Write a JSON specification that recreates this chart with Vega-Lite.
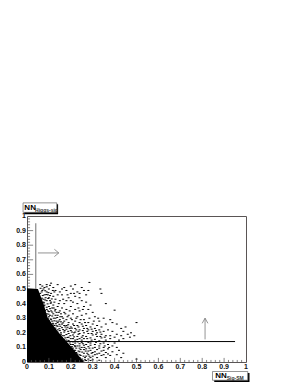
{"$schema":"https://vega.github.io/schema/vega-lite/v6.json","width":219,"height":146,"autosize":"none","padding":{"left":27,"top":216,"right":52,"bottom":23},"background":"white","view":{"stroke":"#5a5555","strokeWidth":1},
"datasets":{
"core":[{"x":0,"y":0.505},{"x":0.05,"y":0.5},{"x":0.075,"y":0.4},{"x":0.095,"y":0.3},{"x":0.145,"y":0.2},{"x":0.205,"y":0.1},{"x":0.26,"y":0}],
"pts":[{"x":0.285,"y":0.545},{"x":0.335,"y":0.5},{"x":0.34,"y":0.47},{"x":0.36,"y":0.4},{"x":0.4,"y":0.355},{"x":0.5,"y":0.27},{"x":0.475,"y":0.2},{"x":0.45,"y":0.24},{"x":0.43,"y":0.23},{"x":0.5,"y":0.02},{"x":0.44,"y":0.21},{"x":0.41,"y":0.26},{"x":0.39,"y":0.27},{"x":0.38,"y":0.29},{"x":0.35,"y":0.3},{"x":0.33,"y":0.28},{"x":0.31,"y":0.31},{"x":0.3,"y":0.34},{"x":0.28,"y":0.36},{"x":0.27,"y":0.33},{"x":0.29,"y":0.39},{"x":0.26,"y":0.38},{"x":0.27,"y":0.46},{"x":0.28,"y":0.49},{"x":0.26,"y":0.49},{"x":0.25,"y":0.51},{"x":0.23,"y":0.48},{"x":0.22,"y":0.53},{"x":0.21,"y":0.5},{"x":0.2,"y":0.52},{"x":0.24,"y":0.44},{"x":0.22,"y":0.45},{"x":0.2,"y":0.47},{"x":0.19,"y":0.44},{"x":0.18,"y":0.49},{"x":0.17,"y":0.51},{"x":0.16,"y":0.5},{"x":0.14,"y":0.53},{"x":0.11,"y":0.54},{"x":0.09,"y":0.53},{"x":0.07,"y":0.52},{"x":0.06,"y":0.53},{"x":0.08,"y":0.51},{"x":0.1,"y":0.5},{"x":0.12,"y":0.51},{"x":0.13,"y":0.49},{"x":0.15,"y":0.48},{"x":0.11,"y":0.47},{"x":0.09,"y":0.48},{"x":0.07,"y":0.49},{"x":0.06,"y":0.47},{"x":0.08,"y":0.46},{"x":0.1,"y":0.44},{"x":0.12,"y":0.45},{"x":0.14,"y":0.46},{"x":0.16,"y":0.46},{"x":0.18,"y":0.42},{"x":0.21,"y":0.41},{"x":0.23,"y":0.4},{"x":0.2,"y":0.38},{"x":0.17,"y":0.4},{"x":0.15,"y":0.42},{"x":0.13,"y":0.43},{"x":0.11,"y":0.41},{"x":0.09,"y":0.42},{"x":0.075,"y":0.43},{"x":0.08,"y":0.39},{"x":0.1,"y":0.38},{"x":0.12,"y":0.39},{"x":0.14,"y":0.38},{"x":0.16,"y":0.37},{"x":0.18,"y":0.36},{"x":0.22,"y":0.36},{"x":0.24,"y":0.35},{"x":0.25,"y":0.32},{"x":0.23,"y":0.31},{"x":0.21,"y":0.33},{"x":0.19,"y":0.32},{"x":0.17,"y":0.34},{"x":0.15,"y":0.35},{"x":0.13,"y":0.36},{"x":0.11,"y":0.35},{"x":0.09,"y":0.36},{"x":0.075,"y":0.36},{"x":0.09,"y":0.33},{"x":0.105,"y":0.32},{"x":0.12,"y":0.33},{"x":0.14,"y":0.32},{"x":0.16,"y":0.31},{"x":0.18,"y":0.29},{"x":0.2,"y":0.3},{"x":0.22,"y":0.28},{"x":0.24,"y":0.27},{"x":0.26,"y":0.29},{"x":0.28,"y":0.27},{"x":0.3,"y":0.26},{"x":0.32,"y":0.25},{"x":0.34,"y":0.24},{"x":0.36,"y":0.26},{"x":0.37,"y":0.22},{"x":0.39,"y":0.21},{"x":0.41,"y":0.19},{"x":0.43,"y":0.18},{"x":0.46,"y":0.19},{"x":0.49,"y":0.18},{"x":0.47,"y":0.17},{"x":0.44,"y":0.16},{"x":0.4,"y":0.17},{"x":0.42,"y":0.15},{"x":0.38,"y":0.18},{"x":0.35,"y":0.21},{"x":0.33,"y":0.22},{"x":0.31,"y":0.23},{"x":0.29,"y":0.24},{"x":0.27,"y":0.25},{"x":0.25,"y":0.26},{"x":0.23,"y":0.25},{"x":0.21,"y":0.26},{"x":0.19,"y":0.27},{"x":0.17,"y":0.28},{"x":0.15,"y":0.29},{"x":0.13,"y":0.3},{"x":0.11,"y":0.29},{"x":0.1,"y":0.27},{"x":0.12,"y":0.26},{"x":0.14,"y":0.27},{"x":0.16,"y":0.26},{"x":0.18,"y":0.25},{"x":0.2,"y":0.24},{"x":0.22,"y":0.23},{"x":0.24,"y":0.22},{"x":0.26,"y":0.23},{"x":0.28,"y":0.22},{"x":0.3,"y":0.21},{"x":0.32,"y":0.2},{"x":0.34,"y":0.19},{"x":0.36,"y":0.18},{"x":0.38,"y":0.16},{"x":0.36,"y":0.15},{"x":0.34,"y":0.165},{"x":0.32,"y":0.175},{"x":0.3,"y":0.185},{"x":0.28,"y":0.195},{"x":0.26,"y":0.2},{"x":0.24,"y":0.195},{"x":0.22,"y":0.205},{"x":0.2,"y":0.215},{"x":0.18,"y":0.225},{"x":0.16,"y":0.235},{"x":0.14,"y":0.245},{"x":0.12,"y":0.235},{"x":0.15,"y":0.215},{"x":0.17,"y":0.205},{"x":0.19,"y":0.195},{"x":0.21,"y":0.185},{"x":0.23,"y":0.175},{"x":0.25,"y":0.17},{"x":0.27,"y":0.175},{"x":0.29,"y":0.165},{"x":0.31,"y":0.155},{"x":0.33,"y":0.145},{"x":0.35,"y":0.13},{"x":0.37,"y":0.12},{"x":0.39,"y":0.11},{"x":0.41,"y":0.1},{"x":0.4,"y":0.13},{"x":0.42,"y":0.08},{"x":0.44,"y":0.06},{"x":0.43,"y":0.03},{"x":0.41,"y":0.05},{"x":0.39,"y":0.07},{"x":0.37,"y":0.09},{"x":0.35,"y":0.1},{"x":0.33,"y":0.11},{"x":0.31,"y":0.12},{"x":0.29,"y":0.13},{"x":0.27,"y":0.14},{"x":0.25,"y":0.15},{"x":0.23,"y":0.155},{"x":0.21,"y":0.16},{"x":0.19,"y":0.17},{"x":0.17,"y":0.18},{"x":0.16,"y":0.165},{"x":0.18,"y":0.15},{"x":0.2,"y":0.14},{"x":0.22,"y":0.13},{"x":0.24,"y":0.125},{"x":0.26,"y":0.115},{"x":0.28,"y":0.105},{"x":0.3,"y":0.095},{"x":0.32,"y":0.085},{"x":0.34,"y":0.075},{"x":0.36,"y":0.065},{"x":0.38,"y":0.045},{"x":0.36,"y":0.03},{"x":0.34,"y":0.045},{"x":0.32,"y":0.055},{"x":0.3,"y":0.065},{"x":0.28,"y":0.075},{"x":0.26,"y":0.085},{"x":0.24,"y":0.095},{"x":0.22,"y":0.105},{"x":0.21,"y":0.12},{"x":0.23,"y":0.11},{"x":0.25,"y":0.1},{"x":0.27,"y":0.09},{"x":0.29,"y":0.08},{"x":0.31,"y":0.07},{"x":0.33,"y":0.06},{"x":0.35,"y":0.05},{"x":0.32,"y":0.03},{"x":0.3,"y":0.04},{"x":0.28,"y":0.05},{"x":0.26,"y":0.06},{"x":0.24,"y":0.07},{"x":0.22,"y":0.08},{"x":0.265,"y":0.03},{"x":0.28,"y":0.02},{"x":0.3,"y":0.015},{"x":0.33,"y":0.012},{"x":0.27,"y":0.01},{"x":0.245,"y":0.045},{"x":0.225,"y":0.065},{"x":0.145,"y":0.28},{"x":0.165,"y":0.3},{"x":0.185,"y":0.31},{"x":0.205,"y":0.29},{"x":0.225,"y":0.3},{"x":0.245,"y":0.29},{"x":0.195,"y":0.35},{"x":0.175,"y":0.33},{"x":0.155,"y":0.33},{"x":0.135,"y":0.34},{"x":0.115,"y":0.37},{"x":0.125,"y":0.41},{"x":0.145,"y":0.4},{"x":0.165,"y":0.43},{"x":0.185,"y":0.46},{"x":0.125,"y":0.48},{"x":0.095,"y":0.46},{"x":0.105,"y":0.42},{"x":0.085,"y":0.44},{"x":0.075,"y":0.41},{"x":0.095,"y":0.35},{"x":0.1,"y":0.31},{"x":0.115,"y":0.28},{"x":0.095,"y":0.29},{"x":0.125,"y":0.25},{"x":0.105,"y":0.26},{"x":0.115,"y":0.22},{"x":0.14,"y":0.22},{"x":0.155,"y":0.19},{"x":0.175,"y":0.165},{"x":0.195,"y":0.13},{"x":0.21,"y":0.095},{"x":0.23,"y":0.055},{"x":0.27,"y":0.04},{"x":0.29,"y":0.03},{"x":0.31,"y":0.05},{"x":0.25,"y":0.135},{"x":0.27,"y":0.12},{"x":0.29,"y":0.115},{"x":0.31,"y":0.1},{"x":0.33,"y":0.095},{"x":0.35,"y":0.08},{"x":0.37,"y":0.055},{"x":0.255,"y":0.18},{"x":0.275,"y":0.16},{"x":0.295,"y":0.15},{"x":0.315,"y":0.135},{"x":0.335,"y":0.125},{"x":0.355,"y":0.11},{"x":0.375,"y":0.1},{"x":0.215,"y":0.2},{"x":0.235,"y":0.21},{"x":0.255,"y":0.215},{"x":0.275,"y":0.21},{"x":0.295,"y":0.195},{"x":0.315,"y":0.19},{"x":0.335,"y":0.175},{"x":0.355,"y":0.17},{"x":0.375,"y":0.14},{"x":0.215,"y":0.25},{"x":0.195,"y":0.23},{"x":0.175,"y":0.24},{"x":0.235,"y":0.24},{"x":0.255,"y":0.245},{"x":0.275,"y":0.23},{"x":0.295,"y":0.225},{"x":0.315,"y":0.215},{"x":0.335,"y":0.205},{"x":0.265,"y":0.27},{"x":0.285,"y":0.3},{"x":0.305,"y":0.28},{"x":0.325,"y":0.3},{"x":0.2,"y":0.42},{"x":0.215,"y":0.47},{"x":0.24,"y":0.47},{"x":0.25,"y":0.42},{"x":0.235,"y":0.37},{"x":0.255,"y":0.36},{"x":0.27,"y":0.41},
{"x":0.062,"y":0.505},{"x":0.075,"y":0.5},{"x":0.09,"y":0.515},{"x":0.105,"y":0.525},{"x":0.067,"y":0.48},{"x":0.083,"y":0.488},{"x":0.098,"y":0.475},{"x":0.118,"y":0.49},{"x":0.072,"y":0.455},{"x":0.088,"y":0.462},{"x":0.105,"y":0.455},{"x":0.068,"y":0.437},{"x":0.083,"y":0.425},{"x":0.097,"y":0.435},{"x":0.113,"y":0.432},{"x":0.078,"y":0.405},{"x":0.094,"y":0.398},{"x":0.108,"y":0.402},{"x":0.122,"y":0.37},{"x":0.078,"y":0.385},{"x":0.09,"y":0.375},{"x":0.105,"y":0.365},{"x":0.082,"y":0.352},{"x":0.1,"y":0.345},{"x":0.115,"y":0.342},{"x":0.128,"y":0.35},{"x":0.088,"y":0.32},{"x":0.098,"y":0.328},{"x":0.115,"y":0.315},{"x":0.13,"y":0.32},{"x":0.145,"y":0.34},{"x":0.096,"y":0.3},{"x":0.108,"y":0.295},{"x":0.122,"y":0.3},{"x":0.138,"y":0.305},{"x":0.152,"y":0.31},{"x":0.1,"y":0.285},{"x":0.125,"y":0.282},{"x":0.135,"y":0.28},{"x":0.155,"y":0.275},{"x":0.105,"y":0.272},{"x":0.118,"y":0.265},{"x":0.132,"y":0.262},{"x":0.148,"y":0.258},{"x":0.165,"y":0.268},{"x":0.112,"y":0.25},{"x":0.135,"y":0.248},{"x":0.152,"y":0.245},{"x":0.17,"y":0.25},{"x":0.188,"y":0.255},{"x":0.12,"y":0.222},{"x":0.13,"y":0.232},{"x":0.148,"y":0.228},{"x":0.165,"y":0.222},{"x":0.185,"y":0.238},{"x":0.205,"y":0.232},{"x":0.14,"y":0.205},{"x":0.155,"y":0.2},{"x":0.172,"y":0.215},{"x":0.188,"y":0.21},{"x":0.205,"y":0.205},{"x":0.225,"y":0.22},{"x":0.145,"y":0.19},{"x":0.162,"y":0.18},{"x":0.18,"y":0.188},{"x":0.198,"y":0.18},{"x":0.215,"y":0.172},{"x":0.235,"y":0.19},{"x":0.15,"y":0.175},{"x":0.168,"y":0.155},{"x":0.185,"y":0.168},{"x":0.2,"y":0.16},{"x":0.22,"y":0.15},{"x":0.24,"y":0.16},{"x":0.26,"y":0.16},{"x":0.172,"y":0.14},{"x":0.19,"y":0.148},{"x":0.21,"y":0.138},{"x":0.232,"y":0.138},{"x":0.255,"y":0.125},{"x":0.28,"y":0.135},{"x":0.178,"y":0.128},{"x":0.2,"y":0.12},{"x":0.218,"y":0.112},{"x":0.24,"y":0.11},{"x":0.262,"y":0.1},{"x":0.285,"y":0.095},{"x":0.188,"y":0.11},{"x":0.205,"y":0.105},{"x":0.225,"y":0.095},{"x":0.245,"y":0.085},{"x":0.268,"y":0.075},{"x":0.295,"y":0.06},{"x":0.2,"y":0.09},{"x":0.215,"y":0.08},{"x":0.235,"y":0.075},{"x":0.252,"y":0.068},{"x":0.275,"y":0.06},{"x":0.21,"y":0.065},{"x":0.22,"y":0.055},{"x":0.24,"y":0.05},{"x":0.258,"y":0.04},{"x":0.285,"y":0.04},{"x":0.228,"y":0.04},{"x":0.24,"y":0.03},{"x":0.252,"y":0.02},{"x":0.265,"y":0.015},{"x":0.29,"y":0.01},{"x":0.235,"y":0.015},{"x":0.255,"y":0.008}],
"hline":[{"x":0,"y":0.14},{"x":0.95,"y":0.14}],
"vline":[{"x":0.04,"y":0.5},{"x":0.04,"y":0.95}],
"arrows":[{"id":"h","o":1,"x":0.05,"y":0.747},{"id":"h","o":2,"x":0.145,"y":0.747},{"id":"h1","o":1,"x":0.125,"y":0.772},{"id":"h1","o":2,"x":0.145,"y":0.747},{"id":"h1","o":3,"x":0.125,"y":0.722},{"id":"v","o":1,"x":0.813,"y":0.155},{"id":"v","o":2,"x":0.813,"y":0.3},{"id":"v1","o":1,"x":0.8,"y":0.265},{"id":"v1","o":2,"x":0.813,"y":0.3},{"id":"v1","o":3,"x":0.826,"y":0.265}],
"xticks":[{"v":0.1,"s":0,"e":0.028},{"v":0.2,"s":0,"e":0.028},{"v":0.3,"s":0,"e":0.028},{"v":0.4,"s":0,"e":0.028},{"v":0.5,"s":0,"e":0.028},{"v":0.6,"s":0,"e":0.028},{"v":0.7,"s":0,"e":0.028},{"v":0.8,"s":0,"e":0.028},{"v":0.9,"s":0,"e":0.028},{"v":0.02,"s":0,"e":0.014},{"v":0.04,"s":0,"e":0.014},{"v":0.06,"s":0,"e":0.014},{"v":0.08,"s":0,"e":0.014},{"v":0.12,"s":0,"e":0.014},{"v":0.14,"s":0,"e":0.014},{"v":0.16,"s":0,"e":0.014},{"v":0.18,"s":0,"e":0.014},{"v":0.22,"s":0,"e":0.014},{"v":0.24,"s":0,"e":0.014},{"v":0.26,"s":0,"e":0.014},{"v":0.28,"s":0,"e":0.014},{"v":0.32,"s":0,"e":0.014},{"v":0.34,"s":0,"e":0.014},{"v":0.36,"s":0,"e":0.014},{"v":0.38,"s":0,"e":0.014},{"v":0.42,"s":0,"e":0.014},{"v":0.44,"s":0,"e":0.014},{"v":0.46,"s":0,"e":0.014},{"v":0.48,"s":0,"e":0.014},{"v":0.52,"s":0,"e":0.014},{"v":0.54,"s":0,"e":0.014},{"v":0.56,"s":0,"e":0.014},{"v":0.58,"s":0,"e":0.014},{"v":0.62,"s":0,"e":0.014},{"v":0.64,"s":0,"e":0.014},{"v":0.66,"s":0,"e":0.014},{"v":0.68,"s":0,"e":0.014},{"v":0.72,"s":0,"e":0.014},{"v":0.74,"s":0,"e":0.014},{"v":0.76,"s":0,"e":0.014},{"v":0.78,"s":0,"e":0.014},{"v":0.82,"s":0,"e":0.014},{"v":0.84,"s":0,"e":0.014},{"v":0.86,"s":0,"e":0.014},{"v":0.88,"s":0,"e":0.014},{"v":0.92,"s":0,"e":0.014},{"v":0.94,"s":0,"e":0.014},{"v":0.96,"s":0,"e":0.014},{"v":0.98,"s":0,"e":0.014}],
"yticks":[{"v":0.6,"s":0,"e":0.028},{"v":0.7,"s":0,"e":0.028},{"v":0.8,"s":0,"e":0.028},{"v":0.9,"s":0,"e":0.028},{"v":0.52,"s":0,"e":0.014},{"v":0.54,"s":0,"e":0.014},{"v":0.56,"s":0,"e":0.014},{"v":0.58,"s":0,"e":0.014},{"v":0.62,"s":0,"e":0.014},{"v":0.64,"s":0,"e":0.014},{"v":0.66,"s":0,"e":0.014},{"v":0.68,"s":0,"e":0.014},{"v":0.72,"s":0,"e":0.014},{"v":0.74,"s":0,"e":0.014},{"v":0.76,"s":0,"e":0.014},{"v":0.78,"s":0,"e":0.014},{"v":0.82,"s":0,"e":0.014},{"v":0.84,"s":0,"e":0.014},{"v":0.86,"s":0,"e":0.014},{"v":0.88,"s":0,"e":0.014},{"v":0.92,"s":0,"e":0.014},{"v":0.94,"s":0,"e":0.014},{"v":0.96,"s":0,"e":0.014},{"v":0.98,"s":0,"e":0.014}],
"xlabels":[{"x":0,"y":-0.035,"t":"0"},{"x":0.1,"y":-0.035,"t":"0.1"},{"x":0.2,"y":-0.035,"t":"0.2"},{"x":0.3,"y":-0.035,"t":"0.3"},{"x":0.4,"y":-0.035,"t":"0.4"},{"x":0.5,"y":-0.035,"t":"0.5"},{"x":0.6,"y":-0.035,"t":"0.6"},{"x":0.7,"y":-0.035,"t":"0.7"},{"x":0.8,"y":-0.035,"t":"0.8"},{"x":0.9,"y":-0.035,"t":"0.9"},{"x":1,"y":-0.035,"t":"1"}],
"ylabels":[{"x":-0.005,"y":0,"t":"0"},{"x":-0.005,"y":0.1,"t":"0.1"},{"x":-0.005,"y":0.2,"t":"0.2"},{"x":-0.005,"y":0.3,"t":"0.3"},{"x":-0.005,"y":0.4,"t":"0.4"},{"x":-0.005,"y":0.5,"t":"0.5"},{"x":-0.005,"y":0.6,"t":"0.6"},{"x":-0.005,"y":0.7,"t":"0.7"},{"x":-0.005,"y":0.8,"t":"0.8"},{"x":-0.005,"y":0.9,"t":"0.9"},{"x":-0.005,"y":1,"t":"1"}],
"shadow":[{"x":-0.012,"x2":0.142,"y":1.08,"y2":1.012},{"x":0.855,"x2":1.016,"y":-0.075,"y2":-0.137}],
"box":[{"x":-0.018,"x2":0.136,"y":1.09,"y2":1.025},{"x":0.847,"x2":1.008,"y":-0.065,"y2":-0.125}],
"nn":[{"x":-0.012,"y":1.057,"t":"NN"},{"x":0.86,"y":-0.095,"t":"NN"}],
"sub":[{"x":0.037,"y":1.04,"t":"Higgs-sig"},{"x":0.912,"y":-0.112,"t":"Sig-SM"}]
},
"layer":[
{"data":{"name":"core"},"mark":{"type":"area","color":"black"},"encoding":{"x":{"field":"x","type":"quantitative","axis":null,"scale":{"domain":[0,1],"nice":false}},"y":{"field":"y","type":"quantitative","axis":null,"scale":{"domain":[0,1],"nice":false}}}},
{"data":{"name":"pts"},"mark":{"type":"point","filled":true,"color":"black","opacity":1,"shape":"M-1,-0.5H1V0.5H-1Z","size":4},"encoding":{"x":{"field":"x","type":"quantitative","axis":null},"y":{"field":"y","type":"quantitative","axis":null}}},
{"data":{"name":"hline"},"mark":{"type":"line","color":"black","strokeWidth":1},"encoding":{"x":{"field":"x","type":"quantitative","axis":null},"y":{"field":"y","type":"quantitative","axis":null}}},
{"data":{"name":"vline"},"mark":{"type":"line","color":"#888","strokeWidth":1.2},"encoding":{"x":{"field":"x","type":"quantitative","axis":null},"y":{"field":"y","type":"quantitative","axis":null}}},
{"data":{"name":"arrows"},"mark":{"type":"line","color":"#777","strokeWidth":0.8},"encoding":{"detail":{"field":"id"},"order":{"field":"o"},"x":{"field":"x","type":"quantitative","axis":null},"y":{"field":"y","type":"quantitative","axis":null}}},
{"data":{"name":"xticks"},"mark":{"type":"rule","color":"#555","strokeWidth":0.7},"encoding":{"x":{"field":"v","type":"quantitative","axis":null},"y":{"field":"s","type":"quantitative","axis":null},"y2":{"field":"e"}}},
{"data":{"name":"yticks"},"mark":{"type":"rule","color":"#555","strokeWidth":0.7},"encoding":{"y":{"field":"v","type":"quantitative","axis":null},"x":{"field":"s","type":"quantitative","axis":null},"x2":{"field":"e"}}},
{"data":{"name":"xlabels"},"mark":{"type":"text","align":"center","baseline":"middle","font":"Liberation Sans","fontWeight":"bold","fontSize":7,"color":"#111"},"encoding":{"x":{"field":"x","type":"quantitative","axis":null},"y":{"field":"y","type":"quantitative","axis":null},"text":{"field":"t"}}},
{"data":{"name":"ylabels"},"mark":{"type":"text","align":"right","baseline":"middle","font":"Liberation Sans","fontWeight":"bold","fontSize":7,"color":"#111"},"encoding":{"x":{"field":"x","type":"quantitative","axis":null},"y":{"field":"y","type":"quantitative","axis":null},"text":{"field":"t"}}},
{"data":{"name":"shadow"},"mark":{"type":"rect","color":"black"},"encoding":{"x":{"field":"x","type":"quantitative","axis":null},"x2":{"field":"x2"},"y":{"field":"y","type":"quantitative","axis":null},"y2":{"field":"y2"}}},
{"data":{"name":"box"},"mark":{"type":"rect","fill":"white","stroke":"#666","strokeWidth":0.7},"encoding":{"x":{"field":"x","type":"quantitative","axis":null},"x2":{"field":"x2"},"y":{"field":"y","type":"quantitative","axis":null},"y2":{"field":"y2"}}},
{"data":{"name":"nn"},"mark":{"type":"text","align":"left","baseline":"middle","font":"Liberation Sans","fontWeight":"bold","fontSize":8,"color":"black"},"encoding":{"x":{"field":"x","type":"quantitative","axis":null},"y":{"field":"y","type":"quantitative","axis":null},"text":{"field":"t"}}},
{"data":{"name":"sub"},"mark":{"type":"text","align":"left","baseline":"middle","font":"Liberation Sans","fontWeight":"bold","fontSize":5,"color":"#333"},"encoding":{"x":{"field":"x","type":"quantitative","axis":null},"y":{"field":"y","type":"quantitative","axis":null},"text":{"field":"t"}}}
]}
